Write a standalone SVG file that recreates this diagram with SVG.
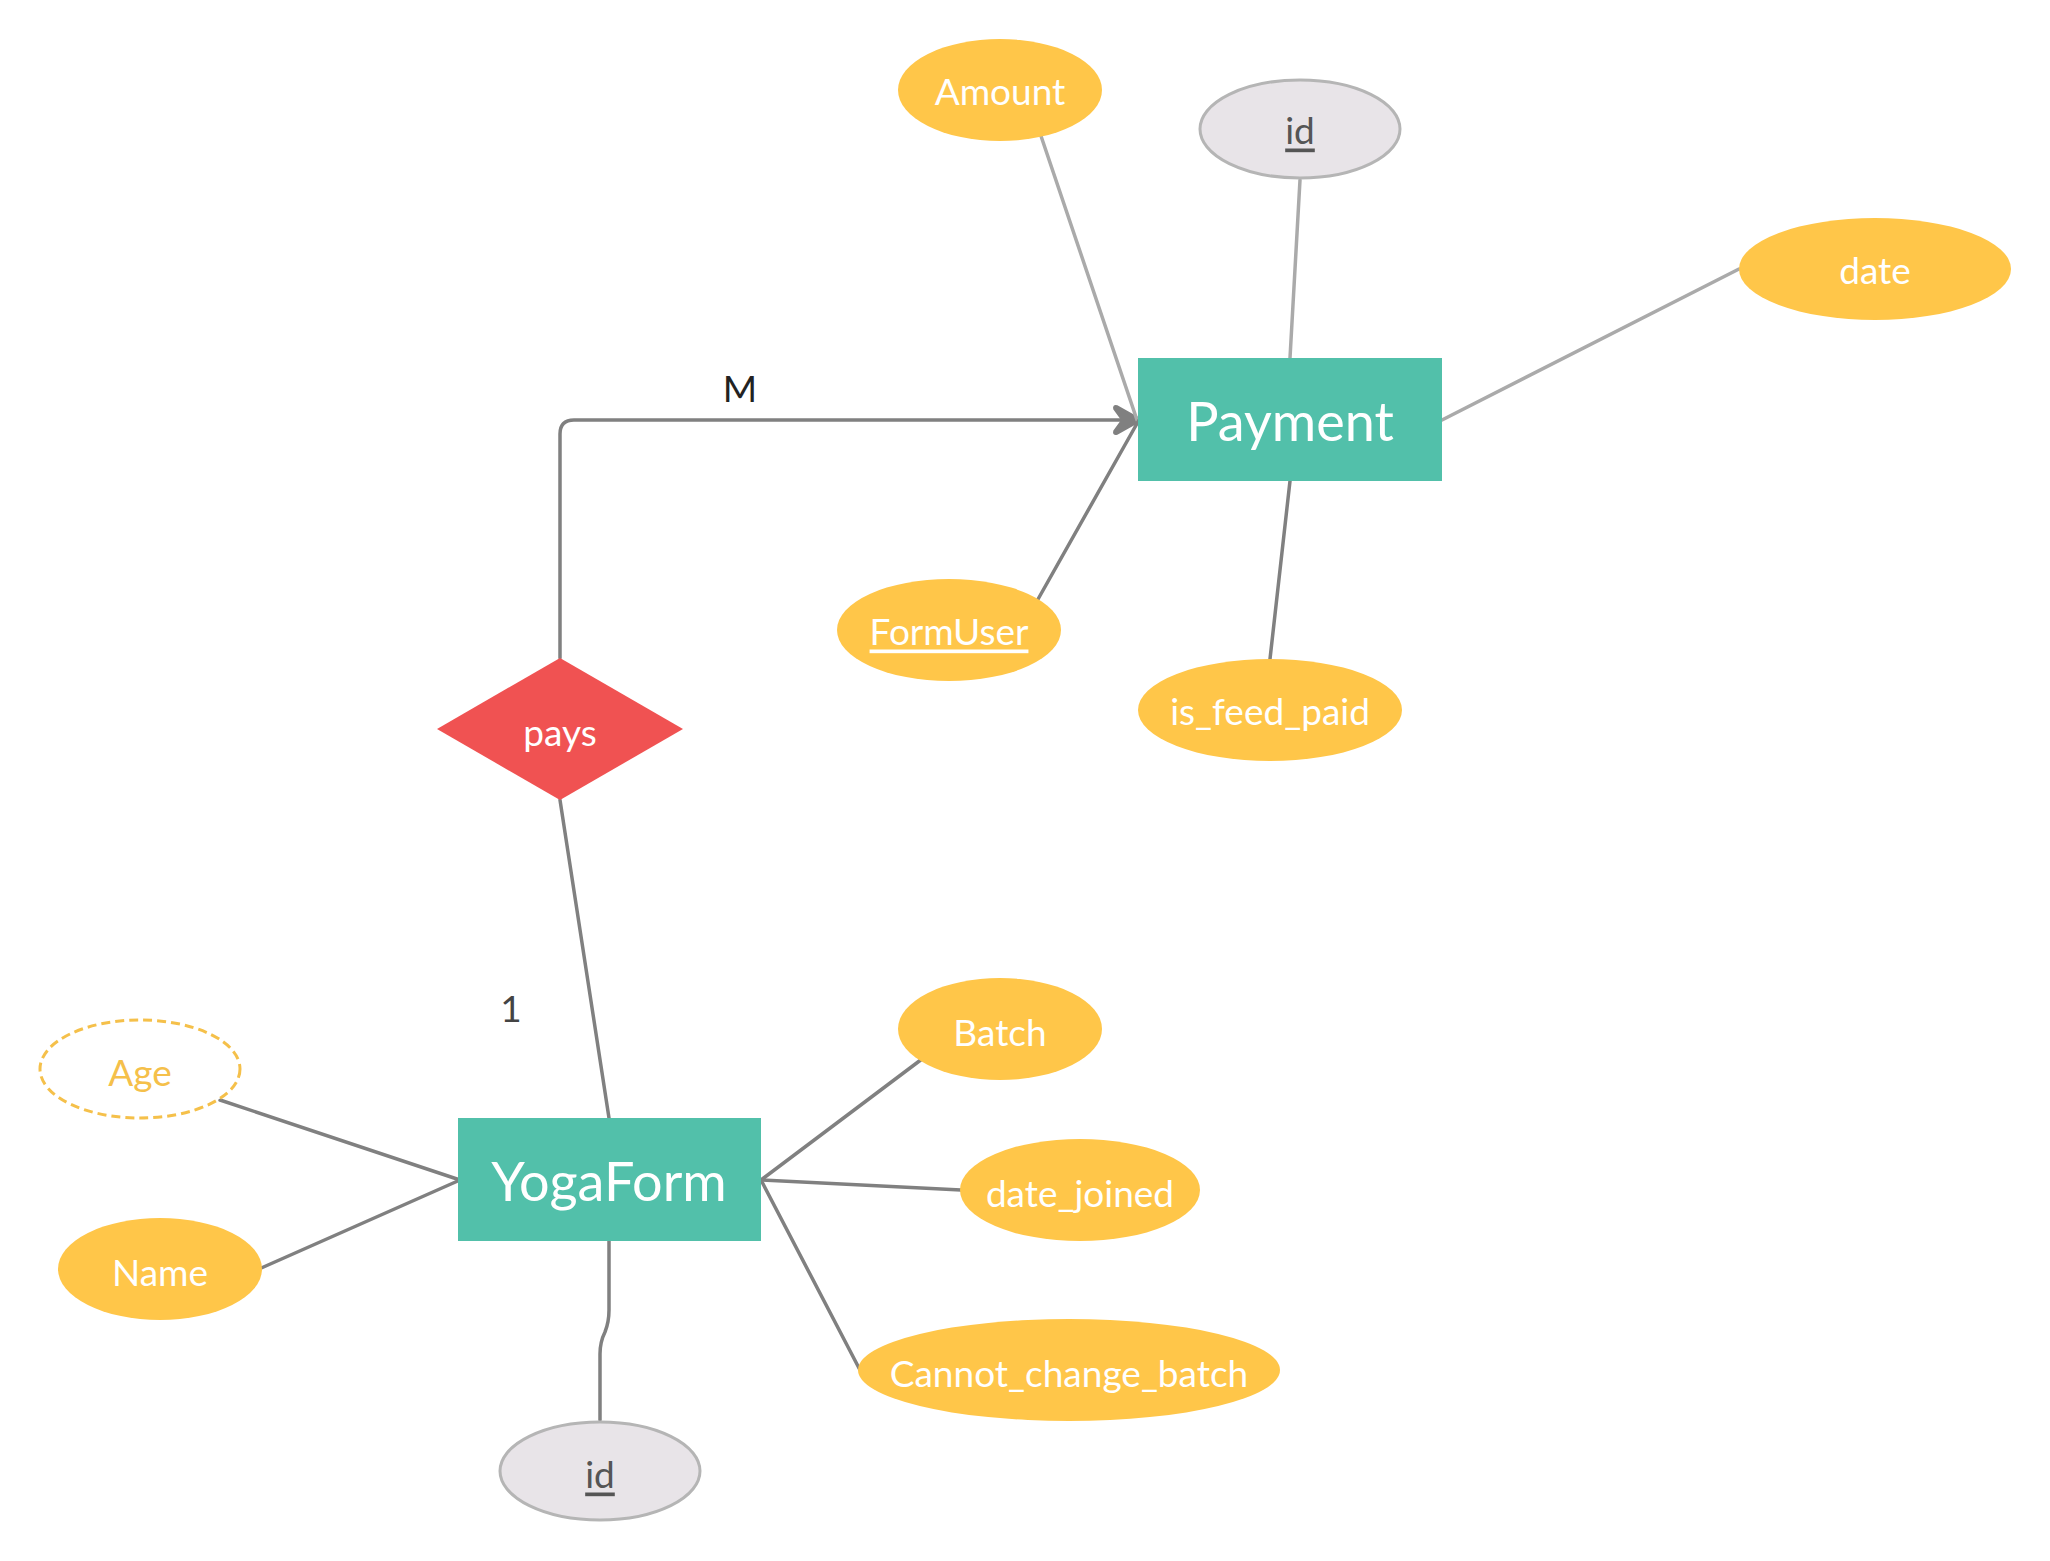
<svg xmlns="http://www.w3.org/2000/svg" width="2050" height="1561" viewBox="0 0 2050 1561">
<style>
.bg{fill:#ffffff}
.ent{fill:#52c0aa}
.attr{fill:#ffc649}
.key{fill:#e8e4e8;stroke:#b5b5b5;stroke-width:3}
.der{fill:#ffffff;stroke:#f5c04a;stroke-width:3;stroke-dasharray:9 5}
.rel{fill:#f05252}
.t{font-family:Lato,"Open Sans","Liberation Sans",sans-serif;text-anchor:middle;dominant-baseline:central}
.tw{fill:#ffffff;font-size:37px}
.te{fill:#ffffff;font-size:54px}
.tk{fill:#555555;font-size:37px;text-decoration:underline}
.ta{fill:#f5c04a;font-size:37px}
.tl{fill:#222222;font-size:37px}
.c{fill:none;stroke:#808080;stroke-width:3.5;stroke-linecap:round}
.cl{fill:none;stroke:#aaaaaa;stroke-width:3.5;stroke-linecap:round}
</style>
<defs>
<marker id="arr" markerWidth="34" markerHeight="34" viewBox="0 0 34 34" refX="32" refY="17" orient="auto" markerUnits="userSpaceOnUse">
<path d="M32,17 L7,3 Q3,2 4,6 L12,17 L4,28 Q3,32 7,31 Z" fill="#808080" stroke="#808080" stroke-width="1.5" stroke-linejoin="round"/>
</marker>
</defs>
<rect class="bg" x="0" y="0" width="2050" height="1561"/>
<g id="connectors">
<path class="c" d="M560,658 L560,434 Q560,420 574,420 L1142,420" marker-end="url(#arr)"/>
<path class="c" d="M560,800 L609,1118"/>
<path class="cl" d="M1041,136 L1137,420"/>
<path class="cl" d="M1300,180 L1290,358"/>
<path class="cl" d="M1739,269 L1442,420"/>
<path class="c" d="M1037,601 L1139,420"/>
<path class="c" d="M1290,481 L1270,659"/>
<path class="c" d="M220,1100 L460,1180"/>
<path class="c" d="M259,1269 L460,1180"/>
<path class="c" d="M922,1059 L761,1180"/>
<path class="c" d="M961,1190 L761,1180"/>
<path class="c" d="M860,1370 L761,1180"/>
<path class="c" d="M609,1241 L609,1310 Q609,1322 605,1332 Q600,1342 600,1354 L600,1420"/>
<text class="t tl" x="740" y="387">M</text>
<text class="t tl" x="511" y="1007" style="fill:#444444">1</text>
</g>
<g id="amount"><ellipse class="attr" cx="1000" cy="90" rx="102" ry="51"/><text class="t tw" x="1000" y="90">Amount</text></g>
<g id="payment-id"><ellipse class="key" cx="1300" cy="129" rx="100" ry="49"/><text class="t tk" x="1300" y="129">id</text></g>
<g id="date"><ellipse class="attr" cx="1875" cy="269" rx="136" ry="51"/><text class="t tw" x="1875" y="269">date</text></g>
<g id="payment"><rect class="ent" x="1138" y="358" width="304" height="123"/><text class="t te" x="1290" y="420">Payment</text></g>
<g id="formuser"><ellipse class="attr" cx="949" cy="630" rx="112" ry="51"/><text class="t tw" x="949" y="630" text-decoration="underline">FormUser</text></g>
<g id="is_feed_paid"><ellipse class="attr" cx="1270" cy="710" rx="132" ry="51"/><text class="t tw" x="1270" y="710">is_feed_paid</text></g>
<g id="pays"><polygon class="rel" points="560,658 683,729 560,800 437,729"/><text class="t tw" x="560" y="731">pays</text></g>
<g id="yogaform"><rect class="ent" x="458" y="1118" width="303" height="123"/><text class="t te" x="609" y="1180">YogaForm</text></g>
<g id="age"><ellipse class="der" cx="140" cy="1069" rx="100" ry="49"/><text class="t ta" x="140" y="1071">Age</text></g>
<g id="name"><ellipse class="attr" cx="160" cy="1269" rx="102" ry="51"/><text class="t tw" x="160" y="1271">Name</text></g>
<g id="batch"><ellipse class="attr" cx="1000" cy="1029" rx="102" ry="51"/><text class="t tw" x="1000" y="1031">Batch</text></g>
<g id="date_joined"><ellipse class="attr" cx="1080" cy="1190" rx="120" ry="51"/><text class="t tw" x="1080" y="1192">date_joined</text></g>
<g id="cannot_change_batch"><ellipse class="attr" cx="1069" cy="1370" rx="211" ry="51"/><text class="t tw" x="1069" y="1372">Cannot_change_batch</text></g>
<g id="yogaform-id"><ellipse class="key" cx="600" cy="1471" rx="100" ry="49"/><text class="t tk" x="600" y="1473">id</text></g>
</svg>
